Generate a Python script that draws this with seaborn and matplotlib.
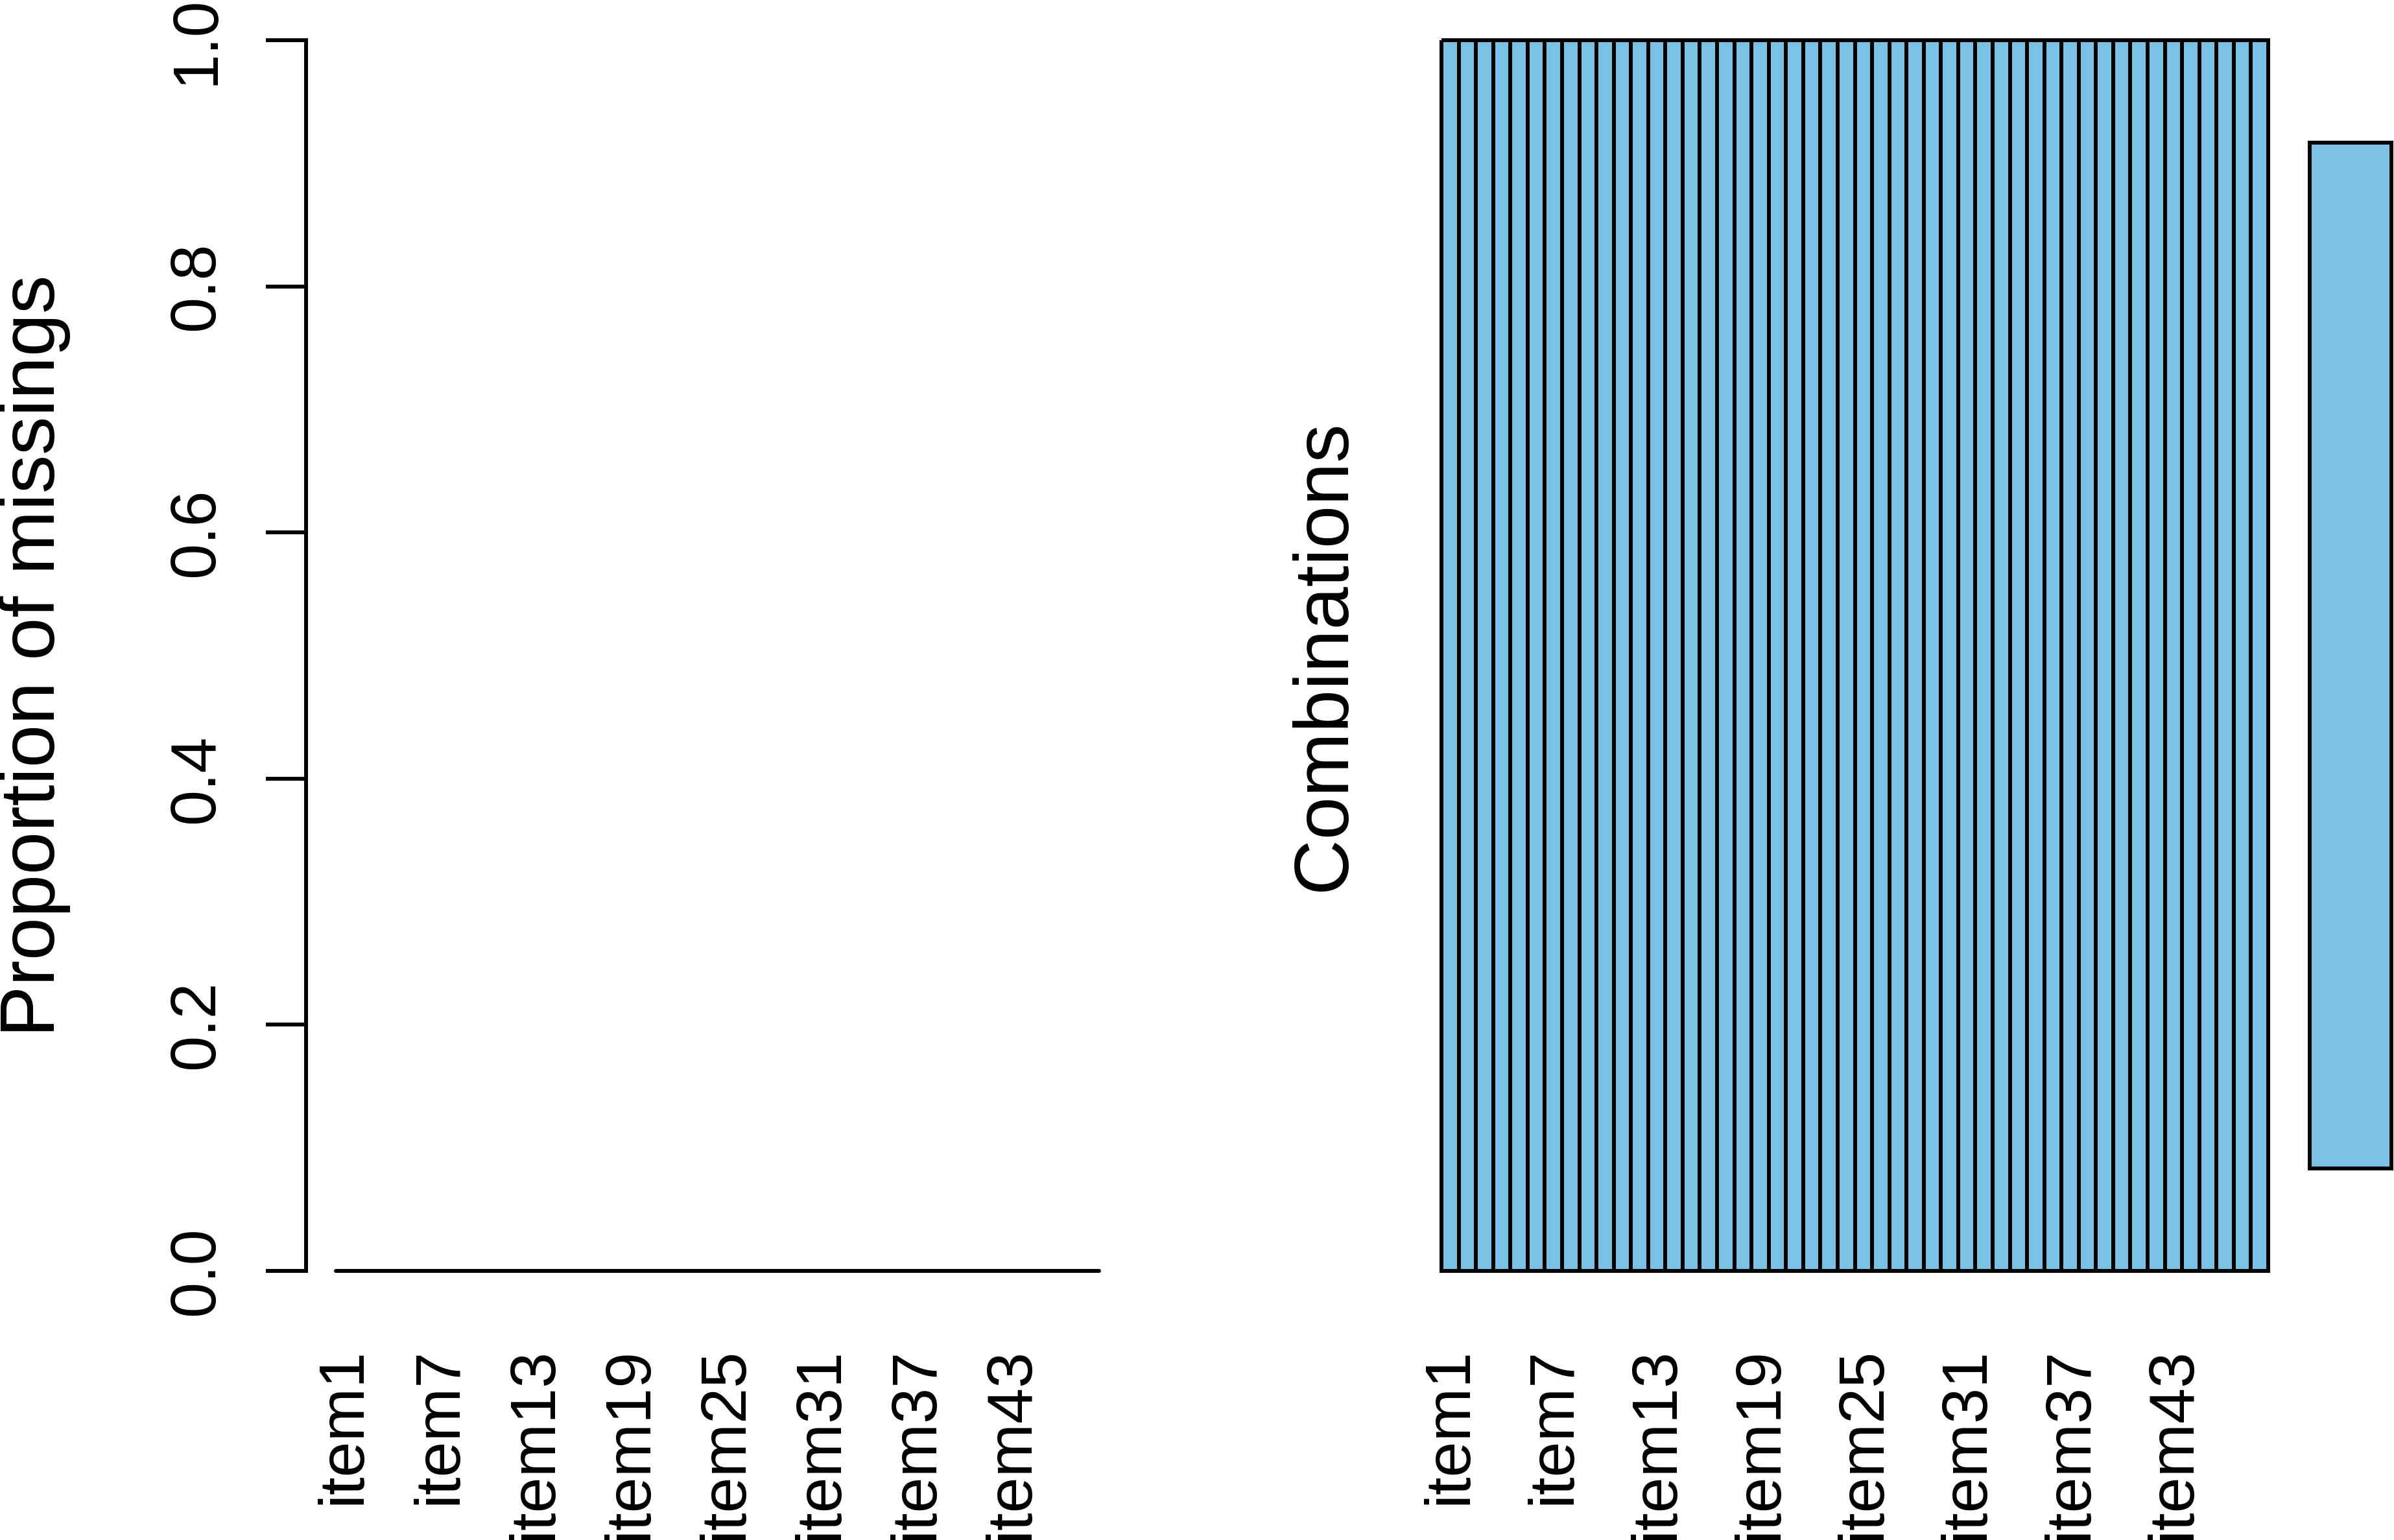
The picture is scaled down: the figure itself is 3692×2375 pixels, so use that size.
import numpy as np
import pandas as pd
import matplotlib
matplotlib.use('Agg')
import matplotlib.pyplot as plt
import seaborn as sns
from matplotlib.colors import ListedColormap

# data: 48 items, no missing values at all -> one combination (all observed)
items = [f'item{i}' for i in range(1, 49)]
prop_missing = [0.0] * 48
combo_pattern = [[0] * 48]      # 0 = observed, 1 = missing
combo_names = ['combo1']
combo_freq = [1.0]
y_ticks = [0.0, 0.2, 0.4, 0.6, 0.8, 1.0]
shown_items = items[::6]

SKY = '#7AC2E5'

sns.set_theme(style='white')
plt.rcParams['font.family'] = ['Liberation Sans', 'DejaVu Sans']

W, H = 3692, 2375
DPI = 100


def px(v):
    # pixels -> points
    return v * 72 / DPI


def box(x0, y0, x1, y1):
    return [x0 / W, 1 - y1 / H, (x1 - x0) / W, (y1 - y0) / H]


FS = px(99)          # tick labels
FS_LAB = FS * 1.2    # axis titles (cex.lab = 1.2)
LW = px(6)

fig = plt.figure(figsize=(W / DPI, H / DPI), dpi=DPI)
fig.patch.set_facecolor('white')

# ---- left: proportion of missings per item
ax1 = fig.add_axes(box(472, 62, 1742, 1960))
df = pd.DataFrame({'item': items, 'prop': prop_missing})
sns.barplot(data=df, x='item', y='prop', ax=ax1, color=SKY, saturation=1,
            edgecolor='black', linewidth=LW, width=1.0)
for p in ax1.patches:
    p.set_clip_on(False)
    p.set_capstyle('round')
ax1.set_xlim(-0.5 - 46 / 24.5, 47.5 + 47 / 24.5)
ax1.set_ylim(0, 1)
ax1.set_facecolor('white')
for s in ['top', 'right', 'bottom']:
    ax1.spines[s].set_visible(False)
ax1.spines['left'].set_color('black')
ax1.spines['left'].set_linewidth(LW)
ax1.set_xticks(range(0, 48, 6))
ax1.set_xticklabels(shown_items, rotation=90, fontsize=FS)
ax1.set_yticks(y_ticks)
ax1.set_yticklabels([f'{v:.1f}' for v in y_ticks], rotation=90, va='center', fontsize=FS)
ax1.tick_params(axis='x', length=0, pad=px(118), colors='black')
ax1.tick_params(axis='y', left=True, length=px(62), width=LW, pad=px(61),
                direction='out', colors='black')
ax1.set_xlabel('')
ax1.set_ylabel('')
fig.text(54 / W, 1 - 1011 / H, 'Proportion of missings', rotation=90,
         ha='center', va='center', fontsize=FS_LAB, color='black')

# ---- right: combination pattern grid
ax2 = fig.add_axes(box(2223, 62, 3498, 1960))
pat = pd.DataFrame(combo_pattern, columns=items, index=combo_names)
sns.heatmap(pat, ax=ax2, cmap=ListedColormap([SKY, 'red']), vmin=0, vmax=1,
            cbar=False, linewidths=LW, linecolor='black')
ax2.collections[0].set_clip_on(False)
ax2.set_xticks(np.arange(0, 48, 6) + 0.5)
ax2.set_xticklabels(shown_items, rotation=90, fontsize=FS)
ax2.set_yticks([])
ax2.tick_params(axis='x', length=0, pad=px(118), colors='black')
ax2.set_xlabel('')
ax2.set_ylabel('')
fig.text(2044 / W, 1 - 1011 / H, 'Combinations', rotation=90,
         ha='center', va='center', fontsize=FS_LAB, color='black')

# ---- frequency of the combination
ax3 = fig.add_axes(box(3562, 62, 3688, 1960))
sns.barplot(x=combo_freq, y=combo_names, orient='h', ax=ax3, color=SKY,
            saturation=1, edgecolor='black', linewidth=LW, width=0.834)
for p in ax3.patches:
    p.set_clip_on(False)
ax3.set_xlim(0, max(combo_freq))
ax3.set_ylim(0.5, -0.5)
ax3.axis('off')

fig.savefig('out.png', dpi=DPI)
